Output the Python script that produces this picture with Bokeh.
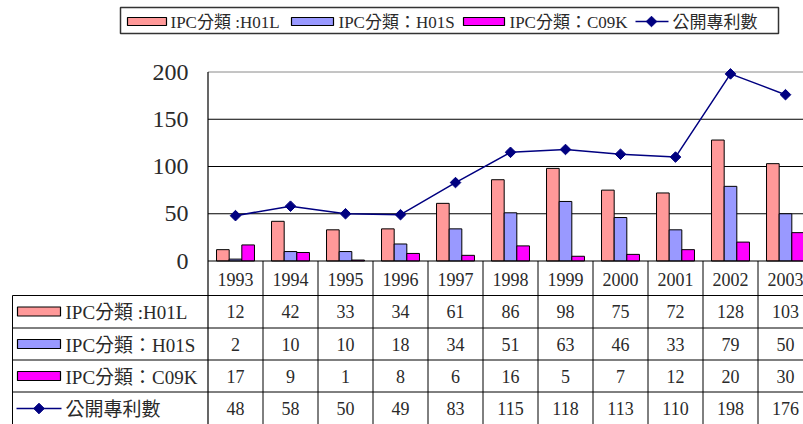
import numpy as np
from bokeh.plotting import figure
from bokeh.models import Range1d
from bokeh.core.properties import value
from bokeh.embed import file_html
from bokeh.resources import INLINE

# ---- data ----
years = ["1993", "1994", "1995", "1996", "1997", "1998", "1999", "2000", "2001", "2002", "2003"]
h01l = [12, 42, 33, 34, 61, 86, 98, 75, 72, 128, 103]
h01s = [2, 10, 10, 18, 34, 51, 63, 46, 33, 79, 50]
c09k = [17, 9, 1, 8, 6, 16, 5, 7, 12, 20, 30]
total = [48, 58, 50, 49, 83, 115, 118, 113, 110, 198, 176]
series_names = ["IPC分類 :H01L", "IPC分類：H01S", "IPC分類：C09K", "公開專利數"]
y_ticks = [0, 50, 100, 150, 200]

# ---- styling ----
BAR_COLORS = ["#FF9999", "#9999FF", "#FF00FF"]
LINE_COLOR = "#000080"
TEXT_COLOR = "#2a2a2a"
FONT = value("'Liberation Serif', 'Noto Sans CJK TC', serif")

# ---- page geometry (pixels) ----
W, H = 803, 424
AX_X = 207.5      # left edge of the first category
CAT_PX = 55.0     # width of one category column
ZERO_Y = 260.5    # pixel row of value 0
UNIT_PX = 189.0 / 200.0


def px_x(px):
    return (px - AX_X) / CAT_PX


def px_y(py):
    return (ZERO_Y - py) / UNIT_PX


p = figure(width=W, height=H, output_backend="svg", toolbar_location=None,
           x_range=Range1d(px_x(0), px_x(W)), y_range=Range1d(px_y(H), px_y(0)),
           min_border=0)
p.axis.visible = False
p.grid.visible = False
p.outline_line_color = None
p.background_fill_color = "white"
p.border_fill_color = "white"

n = len(years)
x_end = px_x(W + 20)
centers = np.arange(n) + 0.5

# ---- plot area: gridlines, border ----
grid_vals = y_ticks[1:-1]
p.segment(x0=[0] * len(grid_vals), x1=[x_end] * len(grid_vals), y0=grid_vals, y1=grid_vals,
          line_color="black", line_width=1)
p.segment(x0=[0], x1=[x_end], y0=[y_ticks[-1]], y1=[y_ticks[-1]], line_color="#8a8a8a", line_width=1)

# ---- bars ----
bw = 0.23
for k, (vals, col) in enumerate(zip([h01l, h01s, c09k], BAR_COLORS)):
    p.vbar(x=centers + (k - 1) * bw, top=vals, bottom=0, width=bw,
           fill_color=col, line_color="black", line_width=1)

# ---- total line ----
p.line(centers, total, line_color=LINE_COLOR, line_width=1.5)
p.scatter(centers, total, marker="square", angle=np.pi / 4, size=7.5,
          fill_color=LINE_COLOR, line_color=LINE_COLOR)

# ---- axis lines ----
p.segment(x0=[0], x1=[x_end], y0=[0], y1=[0], line_color="black", line_width=1.2)
p.segment(x0=[0], x1=[0], y0=[y_ticks[-1]], y1=[px_y(H + 5)], line_color="black", line_width=1.2)

# y tick labels
p.text(x=[px_x(188)] * len(y_ticks), y=y_ticks, text=[str(t) for t in y_ticks],
       text_font=FONT, text_font_size="24px", text_align="right", text_baseline="middle",
       text_color=TEXT_COLOR)

# ---- data table ----
row_lines = [295, 327.5, 359.5, 391.5]
row_centers = [311, 343.5, 375.5, 408]
table_left = px_x(12)

bounds = np.arange(1, n + 1)
p.segment(x0=bounds, x1=bounds, y0=[0] * n, y1=[px_y(H + 5)] * n, line_color="black", line_width=1)
ry = [px_y(r) for r in row_lines]
p.segment(x0=[table_left] * len(ry), x1=[x_end] * len(ry), y0=ry, y1=ry, line_color="black", line_width=1)
p.segment(x0=[table_left], x1=[table_left], y0=[px_y(row_lines[0])], y1=[px_y(H + 5)],
          line_color="black", line_width=1)

# year header
p.text(x=centers, y=[px_y(278.5)] * n, text=years, text_font=FONT, text_font_size="18px",
       text_align="center", text_baseline="middle", text_color=TEXT_COLOR)

# value rows
for vals, rc in zip([h01l, h01s, c09k, total], row_centers):
    p.text(x=centers, y=[px_y(rc)] * n, text=[str(v) for v in vals], text_font=FONT,
           text_font_size="18px", text_align="center", text_baseline="middle", text_color=TEXT_COLOR)

# row keys and labels
for k, rc in enumerate(row_centers):
    if k < 3:
        p.quad(left=[px_x(17)], right=[px_x(60)], top=[px_y(rc - 4.5)], bottom=[px_y(rc + 4.5)],
               fill_color=BAR_COLORS[k], line_color="black", line_width=1.2)
    else:
        p.segment(x0=[px_x(16)], x1=[px_x(61)], y0=[px_y(rc)], y1=[px_y(rc)],
                  line_color=LINE_COLOR, line_width=1.5)
        p.scatter([px_x(38.5)], [px_y(rc)], marker="square", angle=np.pi / 4, size=7.5,
                  fill_color=LINE_COLOR, line_color=LINE_COLOR)
    p.text(x=[px_x(65)], y=[px_y(rc + 1)], text=[series_names[k]], text_font=FONT,
           text_font_size="19px", text_align="left", text_baseline="middle", text_color=TEXT_COLOR)

# ---- legend ----
p.quad(left=[px_x(120)], right=[px_x(778)], top=[px_y(7)], bottom=[px_y(33)],
       fill_color="white", line_color="#333333", line_width=1.5)
leg_y = 21
swatch_x = [(127, 166), (291, 333), (463, 504)]
label_x = [170, 338, 509, 672]
for k, (sx0, sx1) in enumerate(swatch_x):
    p.quad(left=[px_x(sx0)], right=[px_x(sx1)], top=[px_y(leg_y - 4)], bottom=[px_y(leg_y + 4)],
           fill_color=BAR_COLORS[k], line_color="black", line_width=1.2)
p.segment(x0=[px_x(635)], x1=[px_x(668)], y0=[px_y(leg_y)], y1=[px_y(leg_y)],
          line_color=LINE_COLOR, line_width=1.5)
p.scatter([px_x(651)], [px_y(leg_y)], marker="square", angle=np.pi / 4, size=7.5,
          fill_color=LINE_COLOR, line_color=LINE_COLOR)
p.text(x=[px_x(v) for v in label_x], y=[px_y(leg_y + 1)] * 4, text=series_names, text_font=FONT,
       text_font_size="17px", text_align="left", text_baseline="middle", text_color=TEXT_COLOR)

open("out.html", "w").write(file_html(p, INLINE))
